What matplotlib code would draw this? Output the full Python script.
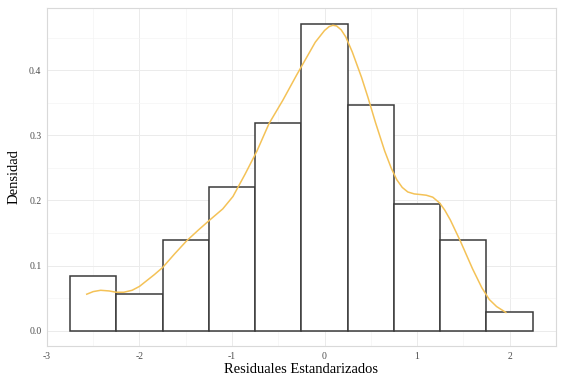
import numpy as np
import matplotlib
matplotlib.use("Agg")
import matplotlib.pyplot as plt

# Histogram bins (width 0.5) and densities
bin_edges = [-2.75, -2.25, -1.75, -1.25, -0.75, -0.25, 0.25, 0.75, 1.25, 1.75, 2.25]
densities = [0.084, 0.056, 0.139, 0.221, 0.319, 0.471, 0.347, 0.195, 0.139, 0.028]

# Density curve (orange)
kde_x = [-2.57, -2.50, -2.42, -2.33, -2.25, -2.17, -2.08, -2.0, -1.92, -1.84, -1.75, -1.62,
         -1.49, -1.36, -1.24, -1.1, -0.99, -0.86, -0.73, -0.6, -0.45, -0.3, -0.2, -0.1,
         0.0, 0.05, 0.09, 0.13, 0.18, 0.23, 0.3, 0.4, 0.47, 0.55, 0.65, 0.72, 0.78, 0.84,
         0.9, 0.97, 1.04, 1.10, 1.17, 1.245, 1.30, 1.36, 1.47, 1.6, 1.70, 1.78, 1.86, 1.96]
kde_y = [0.056, 0.060, 0.062, 0.061, 0.059, 0.059, 0.062, 0.068, 0.077, 0.086, 0.097, 0.118,
         0.138, 0.155, 0.170, 0.187, 0.206, 0.240, 0.276, 0.318, 0.354, 0.393, 0.418, 0.443,
         0.461, 0.467, 0.469, 0.468, 0.462, 0.451, 0.428, 0.389, 0.358, 0.320, 0.276, 0.250,
         0.232, 0.220, 0.213, 0.210, 0.209, 0.208, 0.205, 0.196, 0.185, 0.170, 0.137, 0.095,
         0.066, 0.048, 0.037, 0.028]

plt.rcParams['font.family'] = ['Liberation Serif', 'DejaVu Serif']

fig = plt.figure(figsize=(5.66, 3.79), dpi=100)
ax = fig.add_axes([0.083, 0.087, 0.899, 0.892])

lefts = np.array(bin_edges[:-1])
widths = np.diff(bin_edges)
ax.bar(lefts, densities, width=widths, align='edge', color='white',
       edgecolor='#3a3a3a', linewidth=1.1, zorder=2)
ax.plot(kde_x, kde_y, color='#f4c257', linewidth=1.1, zorder=3)

ax.set_xlim(-3, 2.5)
ax.set_ylim(-0.0236, 0.4956)
ax.set_xticks([-3, -2, -1, 0, 1, 2])
ax.set_xticklabels(['-3', '-2', '-1', '0', '1', '2'])
ax.set_yticks([0.0, 0.1, 0.2, 0.3, 0.4])
ax.set_yticklabels(['0.0', '0.1', '0.2', '0.3', '0.4'])
ax.set_xticks(np.arange(-2.5, 2.6, 1.0), minor=True)
ax.set_yticks(np.arange(0.05, 0.5, 0.1), minor=True)

ax.grid(True, which='major', color='#ebebeb', linewidth=0.7, zorder=0)
ax.grid(True, which='minor', color='#f4f4f4', linewidth=0.5, zorder=0)
ax.set_axisbelow(True)
ax.tick_params(which='both', length=0, labelsize=7, labelcolor='#4d4d4d', pad=4)
for s in ax.spines.values():
    s.set_color('#d9d9d9')
    s.set_linewidth(0.8)

ax.set_xlabel('Residuales Estandarizados', fontsize=10.5, labelpad=2)
ax.set_ylabel('Densidad', fontsize=10.5, labelpad=6)

fig.savefig('out.png', dpi=100)
